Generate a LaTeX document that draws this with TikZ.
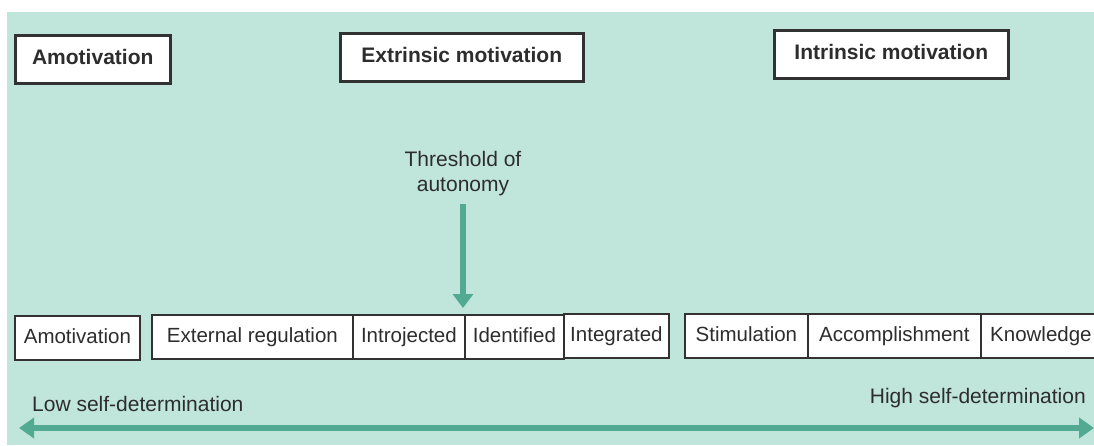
\documentclass[tikz,border=0pt]{standalone}
\usepackage{fontspec}
\setmainfont{Liberation Sans}
\usetikzlibrary{arrows.meta}
\definecolor{bgteal}{RGB}{192,229,219}
\definecolor{arrteal}{RGB}{82,170,146}
\definecolor{boxline}{RGB}{50,50,50}
\definecolor{txt}{RGB}{45,45,45}
\tikzset{
  topbox/.style={draw=boxline, line width=2.5pt, fill=white, text=txt, font=\fontsize{21}{24}\selectfont\bfseries, anchor=north west, inner sep=0pt, text height=15pt, text depth=4pt},
  cellbox/.style={draw=boxline, line width=1.8pt, fill=white, text=txt, font=\fontsize{20.5}{24}\selectfont, anchor=north west, inner sep=0pt, minimum height=44pt, text height=15pt, text depth=4.5pt},
  lbl/.style={text=txt, font=\fontsize{21}{24}\selectfont, inner sep=0pt},
  bigarrow/.style={draw=arrteal, line width=6pt, -{Triangle[length=15pt,width=20pt]}},
}
\begin{document}
\begin{tikzpicture}[x=1pt,y=-1pt]
\useasboundingbox (0,0) rectangle (1094,445);
\fill[white] (0,0) rectangle (1094,445);
\fill[bgteal] (7,12) rectangle (1094,445);
% top boxes
\node[topbox, minimum width=155pt, minimum height=48pt] (amo) at (14,34) {Amotivation};
\node[topbox, minimum width=243pt, minimum height=48pt] (ext) at (339,32) {Extrinsic motivation};
\node[topbox, minimum width=234pt, minimum height=48pt] (int) at (773,29) {Intrinsic motivation};
% threshold
\node[lbl, align=center] (thr) at (463,174) {Threshold of\\[1pt]autonomy};
% bottom cells
\node[cellbox, minimum width=125pt] (c1) at (14,315) {Amotivation};
\node[cellbox, minimum width=201pt] (c2) at (151,314) {External regulation};
\node[cellbox, minimum width=112pt] (c3) at (352,314) {Introjected};
\node[cellbox, minimum width=99pt] (c4) at (464,314) {Identified};
\node[cellbox, minimum width=105pt] (c5) at (563,313) {Integrated};
\node[cellbox, minimum width=123pt] (c6) at (684,313) {Stimulation};
\node[cellbox, minimum width=173pt] (c7) at (807,313) {Accomplishment};
\node[cellbox, minimum width=120pt] (c8) at (980,313) {Knowledge};
% threshold arrow
\draw[bigarrow, -{Triangle[length=14pt,width=20pt]}, shorten <=8pt, shorten >=6pt] (thr.south) -- (thr.south |- c3.north);
% self-determination
\node[lbl, anchor=west] (low) at (32,404) {Low self-determination};
\node[lbl, anchor=east] (high) at (1086,398) {High self-determination};
\coordinate (L) at (19,428);
\coordinate (R) at (1094,428);
\draw[draw=arrteal, line width=6pt, {Triangle[length=15pt,width=20pt]}-{Triangle[length=15pt,width=20pt]}] (L) -- (R);
\end{tikzpicture}
\end{document}
